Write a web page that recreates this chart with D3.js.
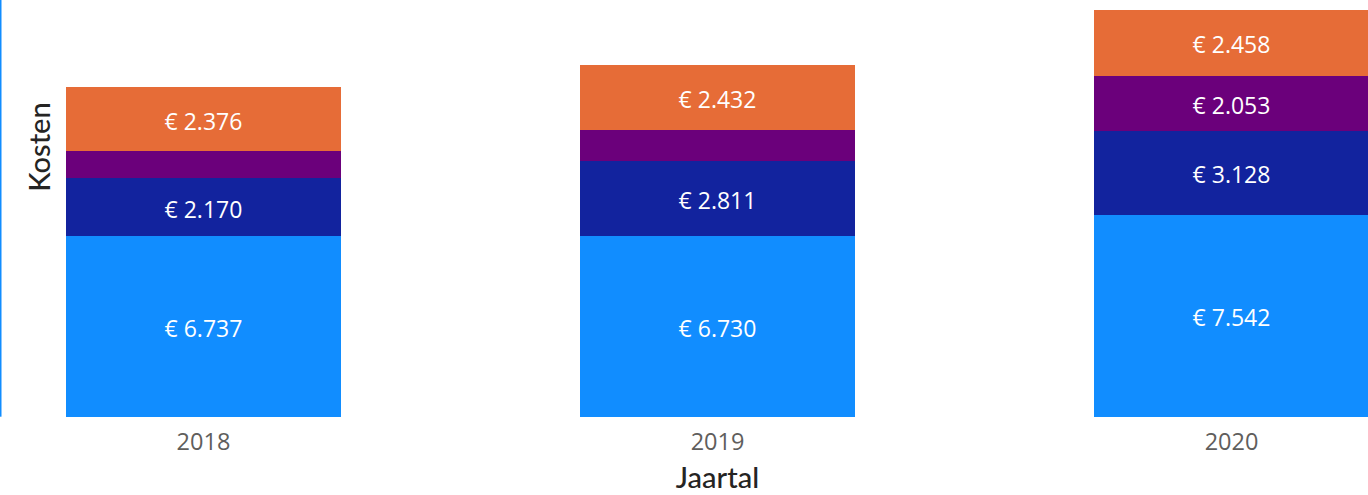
<!DOCTYPE html>
<html>
<head>
<meta charset="utf-8">
<script src="https://cdn.jsdelivr.net/npm/d3@7"></script>
<style>
  html, body { margin: 0; padding: 0; background: #ffffff; }
  svg { display: block; }
  text { font-family: "Segoe UI", "Open Sans", sans-serif; }
</style>
</head>
<body>
<svg id="chart" width="1368" height="495"></svg>
<script>
// Yearly costs split into four cost groups (bottom to top of each stack)
const years = ["2018", "2019", "2020"];
const groupA = [6737, 6730, 7542];   // light blue
const groupB = [2170, 2811, 3128];   // dark blue
const groupC = [1010, 1160, 2053];   // purple
const groupD = [2376, 2432, 2458];   // orange
const seriesNames = ["A", "B", "C", "D"];
const seriesColors = ["#118DFF", "#12239E", "#6B007B", "#E66C37"];
const xTitle = "Jaartal";
const yTitle = "Kosten";

const rows = years.map((y, i) => ({
  year: y, A: groupA[i], B: groupB[i], C: groupC[i], D: groupD[i]
}));

const svg = d3.select("#chart");
const plot = { left: 66, right: 1369, top: 10, bottom: 416.7 };

const x = d3.scaleBand()
  .domain(years)
  .range([plot.left, plot.right])
  .paddingInner(0.465)
  .paddingOuter(0);

const stack = d3.stack().keys(seriesNames);
const layers = stack(rows);
const maxTotal = d3.max(rows, r => r.A + r.B + r.C + r.D);

const y = d3.scaleLinear()
  .domain([0, maxTotal])
  .range([plot.bottom, plot.top]);

const color = d3.scaleOrdinal().domain(seriesNames).range(seriesColors);

// left accent line
svg.append("rect")
  .attr("x", 0).attr("y", 0)
  .attr("width", 1.5).attr("height", plot.bottom)
  .attr("fill", "#118DFF");

// stacked bars
const layerG = svg.append("g").selectAll("g")
  .data(layers)
  .join("g")
  .attr("fill", d => color(d.key));

layerG.selectAll("rect")
  .data(d => d)
  .join("rect")
  .attr("shape-rendering", "crispEdges")
  .attr("x", d => x(d.data.year))
  .attr("width", x.bandwidth())
  .attr("y", d => y(d[1]))
  .attr("height", d => y(d[0]) - y(d[1]));

// value labels (only where the segment is tall enough)
const fmt = v => "€ " + d3.format(",")(v).replace(/,/g, ".");
const labelG = svg.append("g");
layers.forEach(layer => {
  layer.forEach(d => {
    const h = y(d[0]) - y(d[1]);
    if (h < 40) return;
    labelG.append("text")
      .attr("x", x(d.data.year) + x.bandwidth() / 2)
      .attr("y", (y(d[0]) + y(d[1])) / 2 + 2.5)
      .attr("dy", "0.35em")
      .attr("text-anchor", "middle")
      .attr("fill", "#ffffff")
      .style("font-size", "23px")
      .text(fmt(d[1] - d[0]));
  });
});

// x axis (labels only)
const xAxis = d3.axisBottom(x).tickSize(0).tickPadding(0);
const xg = svg.append("g")
  .attr("transform", `translate(0,${plot.bottom})`)
  .call(xAxis);
xg.select(".domain").remove();
xg.selectAll("text")
  .attr("y", 33.5)
  .attr("dy", 0)
  .attr("fill", "#605E5C")
  .style("font-size", "23.5px")
  .style("font-family", "\"Segoe UI\", \"Open Sans\", sans-serif");

// axis titles
svg.append("text")
  .attr("x", (x("2019") + x.bandwidth() / 2))
  .attr("y", 488)
  .attr("text-anchor", "middle")
  .attr("fill", "#252423")
  .style("font-family", "Lato, \"Open Sans\", sans-serif")
  .style("font-size", "29px")
  .style("font-weight", "500")
  .text(xTitle);

svg.append("text")
  .attr("transform", "translate(49.5,147) rotate(-90)")
  .attr("text-anchor", "middle")
  .attr("fill", "#252423")
  .style("font-family", "Lato, \"Open Sans\", sans-serif")
  .style("font-size", "29px")
  .style("font-weight", "500")
  .text(yTitle);
</script>
</body>
</html>
